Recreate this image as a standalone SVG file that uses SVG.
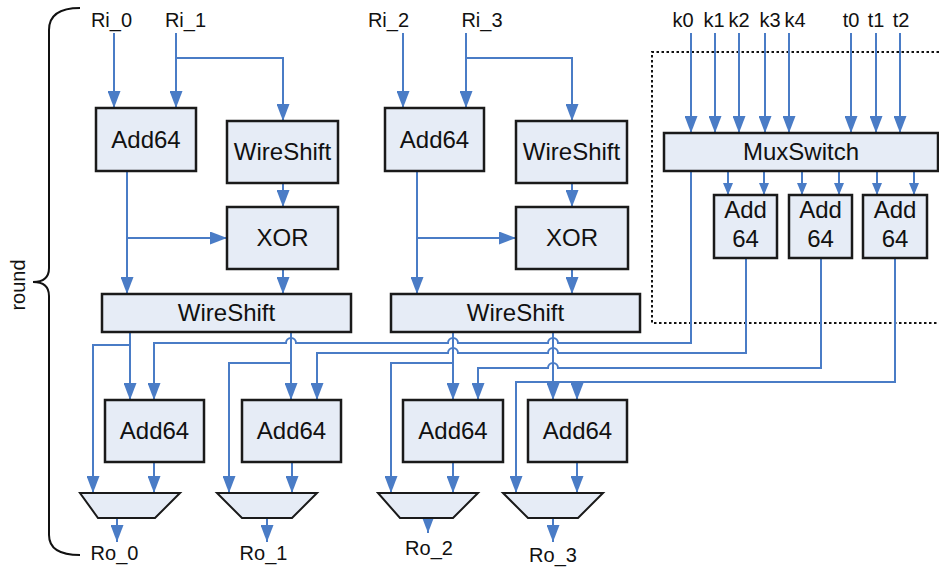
<svg xmlns="http://www.w3.org/2000/svg" width="939" height="569" viewBox="0 0 939 569">
<defs>
<style>
.box{fill:#E6ECF6;stroke:#1a1a1a;stroke-width:2.5}
.mux{fill:#E6ECF6;stroke:#1a1a1a;stroke-width:2}
.w{fill:none;stroke:#4A7CC6;stroke-width:2}
.wa{fill:none;stroke:#4A7CC6;stroke-width:2;marker-end:url(#a)}
.ws{fill:none;stroke:#4A7CC6;stroke-width:2;marker-end:url(#s)}
text{font-family:"Liberation Sans",Arial,sans-serif;fill:#111}
.lb{font-size:24px;text-anchor:middle}
.io{font-size:20px;text-anchor:middle}
</style>
<marker id="a" markerUnits="userSpaceOnUse" viewBox="0 0 17 13" markerWidth="17" markerHeight="13" refX="17" refY="6.5" orient="auto"><path d="M0,0 L17,6.5 L0,13 z" fill="#4A7CC6"/></marker>
<marker id="s" markerUnits="userSpaceOnUse" viewBox="0 0 12 10" markerWidth="12" markerHeight="10" refX="12" refY="5" orient="auto"><path d="M0,0 L12,5 L0,10 z" fill="#4A7CC6"/></marker>
</defs>

<g id="brace">
<path d="M80,8 Q49,8 49,30 V268 Q49,282 33,282 Q49,282 49,296 V535 Q49,555 80,555" fill="none" stroke="#111" stroke-width="2"/>
<text transform="translate(25,285) rotate(-90)" class="io">round</text>
</g>

<g id="dotted">
<path d="M939,52 H652 V323 H939" fill="none" stroke="#111" stroke-width="2" stroke-dasharray="2.5 2.5"/>
</g>

<g id="labels">
<text x="111.5" y="27" class="io">Ri_0</text>
<text x="185.5" y="27" class="io">Ri_1</text>
<text x="388.5" y="27" class="io">Ri_2</text>
<text x="482" y="27" class="io">Ri_3</text>
<text x="683" y="27" class="io">k0</text>
<text x="714" y="27" class="io">k1</text>
<text x="739" y="27" class="io">k2</text>
<text x="770" y="27" class="io">k3</text>
<text x="795" y="27" class="io">k4</text>
<text x="851" y="27" class="io">t0</text>
<text x="876" y="27" class="io">t1</text>
<text x="901" y="27" class="io">t2</text>
<text x="114.5" y="560" class="io">Ro_0</text>
<text x="263.5" y="560" class="io">Ro_1</text>
<text x="429" y="555" class="io">Ro_2</text>
<text x="553" y="562" class="io">Ro_3</text>
</g>

<g id="connectors">
<path class="wa" d="M114,33 V108"/>
<path class="wa" d="M176,33 V108"/>
<path class="wa" d="M176,58 H283 V121"/>
<path class="wa" d="M283,183 V207"/>
<path class="wa" d="M127,171 V294"/>
<path class="wa" d="M127,238 H227"/>
<path class="wa" d="M283,269 V294"/>

<path class="wa" d="M403,33 V108"/>
<path class="wa" d="M466,33 V108"/>
<path class="wa" d="M466,58 H572 V121"/>
<path class="wa" d="M572,183 V207"/>
<path class="wa" d="M417,171 V294"/>
<path class="wa" d="M417,238 H516"/>
<path class="wa" d="M572,269 V294"/>

<path class="wa" d="M691,33 V133"/>
<path class="wa" d="M715,33 V133"/>
<path class="wa" d="M739,33 V133"/>
<path class="wa" d="M765,33 V133"/>
<path class="wa" d="M789,33 V133"/>
<path class="wa" d="M851,33 V133"/>
<path class="wa" d="M876,33 V133"/>
<path class="wa" d="M900,33 V133"/>

<path class="ws" d="M728,171 V195"/>
<path class="ws" d="M764,171 V195"/>
<path class="ws" d="M802,171 V195"/>
<path class="ws" d="M839,171 V195"/>
<path class="ws" d="M877,171 V195"/>
<path class="ws" d="M914,171 V195"/>

<path class="wa" d="M691,171 V343 H558 A5,5 0 0 0 548,343 H458 A5,5 0 0 0 448,343 H296 A5,5 0 0 0 286,343 H154 V400"/>
<path class="wa" d="M746,258 V353 H558 A5,5 0 0 0 548,353 H458 A5,5 0 0 0 448,353 H317 V400"/>
<path class="wa" d="M821,258 V368 H558 A5,5 0 0 0 548,368 H478 V400"/>
<path class="w" d="M895,258 V382 H553"/>
<path class="wa" d="M577,382 V400"/>

<path class="wa" d="M130,332 V400"/>
<path class="wa" d="M130,345 H93 V493"/>
<path class="wa" d="M291,332 V400"/>
<path class="wa" d="M291,363 H229 V493"/>
<path class="wa" d="M453,332 V400"/>
<path class="wa" d="M453,363 H391 V493"/>
<path class="wa" d="M553,332 V400"/>
<path class="wa" d="M553,382 H516 V493"/>

<path class="wa" d="M154,462 V493"/>
<path class="wa" d="M292,462 V493"/>
<path class="wa" d="M453,462 V493"/>
<path class="wa" d="M577,462 V493"/>

<path class="wa" d="M117,518 V542"/>
<path class="wa" d="M267,518 V542"/>
<path class="wa" d="M428,518 V533"/>
<path class="wa" d="M553,518 V542"/>
</g>

<g id="add64_a"><rect class="box" x="96" y="108" width="100" height="63"/><text x="146" y="148" class="lb">Add64</text></g>
<g id="wireshift_a"><rect class="box" x="227" y="121" width="111" height="62"/><text x="282.5" y="160" class="lb">WireShift</text></g>
<g id="xor_a"><rect class="box" x="227" y="207" width="111" height="62"/><text x="282.5" y="246" class="lb">XOR</text></g>
<g id="wireshift_big_a"><rect class="box" x="102" y="294" width="249" height="38"/><text x="226.5" y="321" class="lb">WireShift</text></g>

<g id="add64_b"><rect class="box" x="385" y="108" width="99" height="63"/><text x="434.5" y="148" class="lb">Add64</text></g>
<g id="wireshift_b"><rect class="box" x="516" y="121" width="111" height="62"/><text x="571.5" y="160" class="lb">WireShift</text></g>
<g id="xor_b"><rect class="box" x="516" y="207" width="112" height="62"/><text x="572" y="246" class="lb">XOR</text></g>
<g id="wireshift_big_b"><rect class="box" x="391" y="294" width="249" height="38"/><text x="515.5" y="321" class="lb">WireShift</text></g>

<g id="muxswitch"><rect class="box" x="664" y="133" width="274" height="38"/><text x="801" y="160" class="lb">MuxSwitch</text></g>
<g id="add_k1"><rect class="box" x="714" y="195" width="63" height="63"/><text x="745.5" y="218" class="lb">Add</text><text x="745.5" y="247" class="lb">64</text></g>
<g id="add_k2"><rect class="box" x="789" y="195" width="63" height="63"/><text x="820.5" y="218" class="lb">Add</text><text x="820.5" y="247" class="lb">64</text></g>
<g id="add_k3"><rect class="box" x="863" y="195" width="64" height="63"/><text x="895" y="218" class="lb">Add</text><text x="895" y="247" class="lb">64</text></g>

<g id="add64_o0"><rect class="box" x="105" y="400" width="99" height="62"/><text x="154.5" y="439" class="lb">Add64</text></g>
<g id="add64_o1"><rect class="box" x="242" y="400" width="99" height="62"/><text x="291.5" y="439" class="lb">Add64</text></g>
<g id="add64_o2"><rect class="box" x="403" y="400" width="100" height="62"/><text x="453" y="439" class="lb">Add64</text></g>
<g id="add64_o3"><rect class="box" x="528" y="400" width="99" height="62"/><text x="577.5" y="439" class="lb">Add64</text></g>

<g id="mux0"><polygon class="mux" points="80,493 180,493 155,518 98,518"/></g>
<g id="mux1"><polygon class="mux" points="217,493 317,493 292,518 242,518"/></g>
<g id="mux2"><polygon class="mux" points="378,493 478,493 453,518 400,518"/></g>
<g id="mux3"><polygon class="mux" points="503,493 603,493 578,518 528,518"/></g>
</svg>
